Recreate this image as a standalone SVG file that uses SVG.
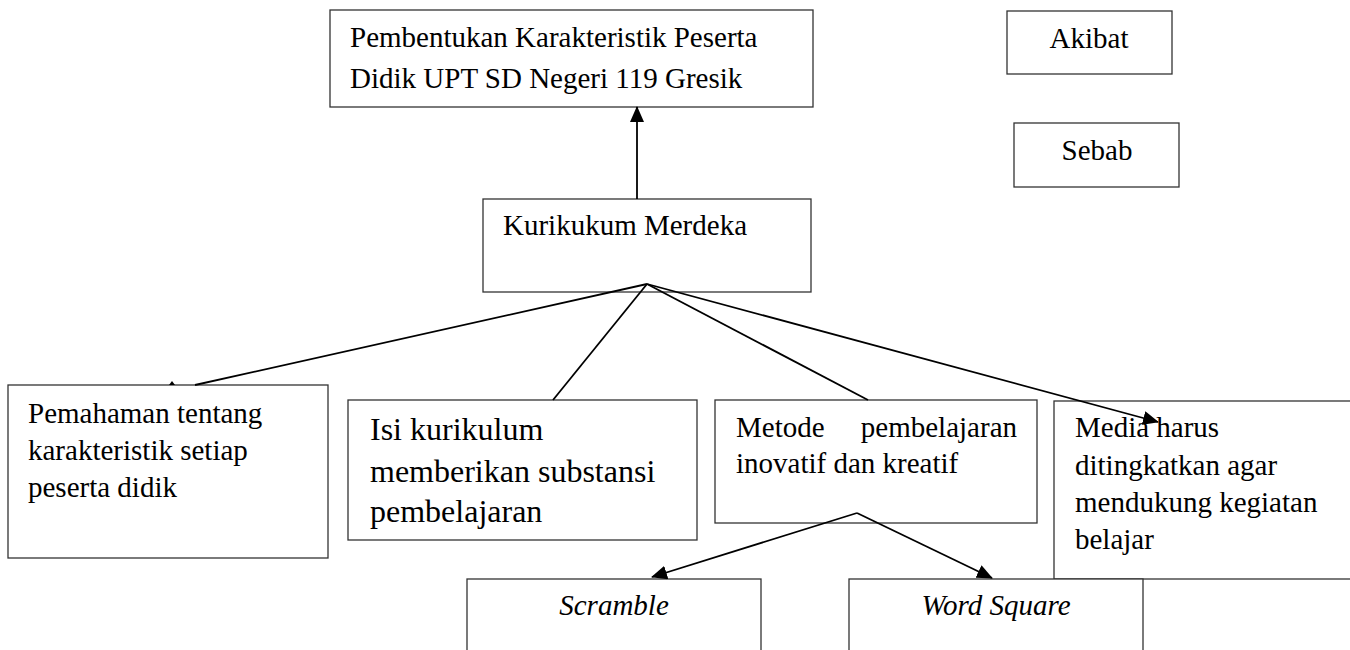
<svg xmlns="http://www.w3.org/2000/svg" width="1350" height="650" viewBox="0 0 1350 650">
<style>
.box{fill:#fff;stroke:#333;stroke-width:1.3}
.t{font-family:"Liberation Serif","Times New Roman",serif;font-size:29px;fill:#000}
.t32{font-size:32px}
.it{font-style:italic}
.c{fill:none;stroke:#000;stroke-width:1.8}
</style>
<defs>
<marker id="ah" markerUnits="userSpaceOnUse" markerWidth="16" markerHeight="14" refX="15" refY="7" orient="auto">
<path d="M0,0 L16,7 L0,14 Z" fill="#000"/>
</marker>
</defs>
<rect width="1350" height="650" fill="#fff"/>
<g id="n-top">
<rect class="box" x="330" y="10" width="483" height="97"/>
<text class="t" x="350" y="47">Pembentukan Karakteristik Peserta</text>
<text class="t" x="350" y="88">Didik UPT SD Negeri 119 Gresik</text>
</g>
<g id="n-akibat">
<rect class="box" x="1007" y="11" width="165" height="63"/>
<text class="t" x="1089" y="48" text-anchor="middle">Akibat</text>
</g>
<g id="n-sebab">
<rect class="box" x="1014" y="123" width="165" height="64"/>
<text class="t" x="1097" y="160" text-anchor="middle">Sebab</text>
</g>
<g id="n-kurikulum">
<rect class="box" x="483" y="199" width="328" height="93"/>
<text class="t" x="503" y="235">Kurikukum Merdeka</text>
</g>
<g id="n-pemahaman">
<rect class="box" x="8" y="385" width="320" height="173"/>
<text class="t" x="28" y="423">Pemahaman tentang</text>
<text class="t" x="28" y="460">karakteristik setiap</text>
<text class="t" x="28" y="497">peserta didik</text>
</g>
<g id="n-isi">
<rect class="box" x="348" y="400" width="349" height="140"/>
<text class="t t32" x="370" y="440">Isi kurikulum</text>
<text class="t t32" x="370" y="482">memberikan substansi</text>
<text class="t t32" x="370" y="522">pembelajaran</text>
</g>
<g id="n-metode">
<rect class="box" x="715" y="400" width="322" height="123"/>
<text class="t" x="736" y="437">Metode</text>
<text class="t" x="1017" y="437" text-anchor="end">pembelajaran</text>
<text class="t" x="736" y="473">inovatif dan kreatif</text>
</g>
<g id="n-media">
<rect class="box" x="1054" y="401" width="310" height="178"/>
<text class="t" x="1075" y="437">Media harus</text>
<text class="t" x="1075" y="475">ditingkatkan agar</text>
<text class="t" x="1075" y="512">mendukung kegiatan</text>
<text class="t" x="1075" y="549">belajar</text>
</g>
<g id="n-scramble">
<rect class="box" x="467" y="579" width="294" height="90"/>
<text class="t it" x="614" y="615" text-anchor="middle">Scramble</text>
</g>
<g id="n-wordsquare">
<rect class="box" x="849" y="579" width="294" height="90"/>
<text class="t it" x="996" y="615" text-anchor="middle">Word Square</text>
</g>
<g id="connectors">
<line class="c" x1="637" y1="199" x2="637" y2="107" marker-end="url(#ah)"/>
<line class="c" x1="647" y1="284" x2="195" y2="385"/>
<polygon points="169,385 172,381 175,385" fill="#000"/>
<line class="c" x1="647" y1="284" x2="553" y2="400"/>
<line class="c" x1="647" y1="284" x2="868" y2="400"/>
<line class="c" x1="647" y1="284" x2="1158" y2="422" marker-end="url(#ah)"/>
<line class="c" x1="857" y1="513" x2="652" y2="577" marker-end="url(#ah)"/>
<line class="c" x1="857" y1="513" x2="992" y2="578" marker-end="url(#ah)"/>
</g>
</svg>
